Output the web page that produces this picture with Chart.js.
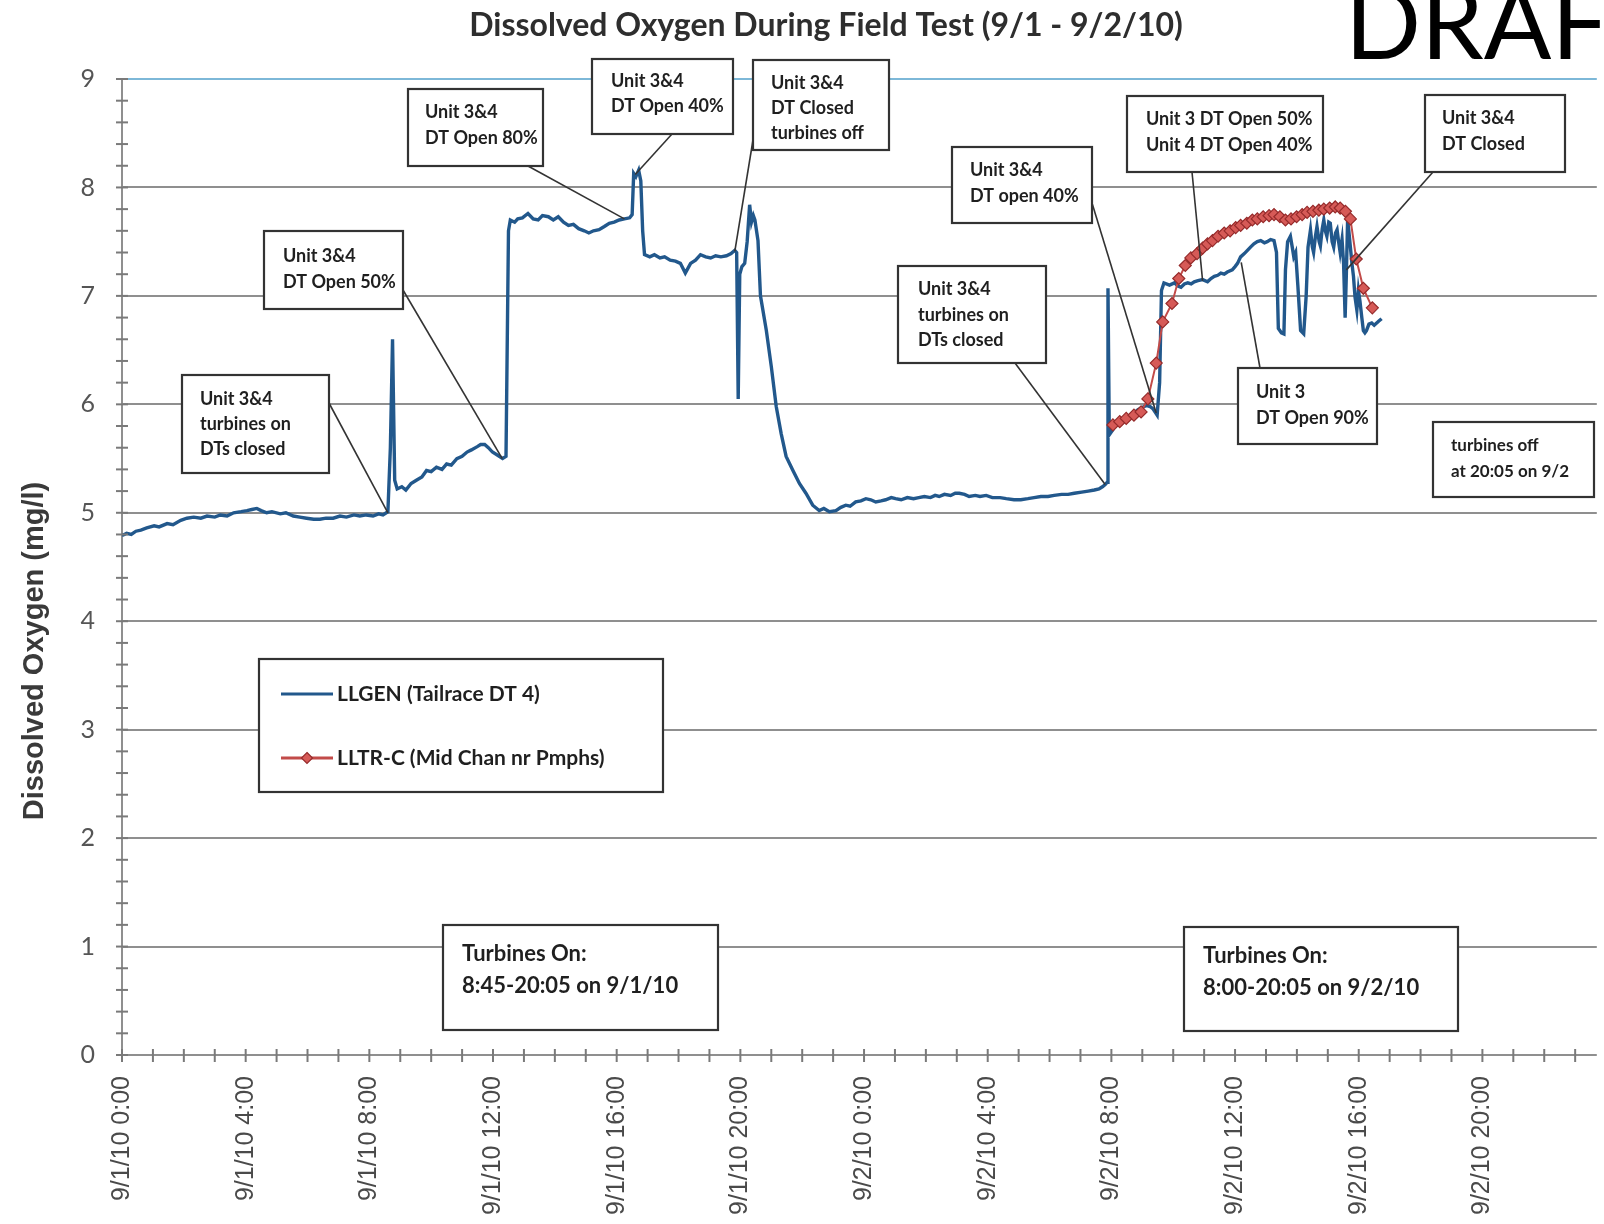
<!DOCTYPE html>
<html>
<head>
<meta charset="utf-8">
<title>Dissolved Oxygen During Field Test</title>
<script src="https://cdn.jsdelivr.net/npm/chart.js@4.4.1/dist/chart.umd.min.js"></script>
<style>
  html, body { margin: 0; padding: 0; background: #fff; overflow: hidden; }
  canvas { display: block; }
</style>
</head>
<body>
<canvas id="chart" width="1604" height="1224"></canvas>
<script>
// LLGEN (tailrace DT 4) readings: hours since 9/1/10 0:00 and DO in mg/l
const llgenHours = [
  0.00, 0.15, 0.30, 0.45, 0.61, 0.80, 1.04, 1.20, 1.46, 1.65, 1.90, 2.10, 2.32, 2.55, 2.75, 3.00,
  3.18, 3.40, 3.61, 3.85, 4.04, 4.20, 4.36, 4.50, 4.68, 4.85, 5.12, 5.30, 5.54, 5.75, 5.97, 6.20,
  6.40, 6.60, 6.83, 7.05, 7.26, 7.50, 7.69, 7.90, 8.12, 8.30, 8.44, 8.60, 8.68, 8.75, 8.82, 8.90,
  9.05, 9.18, 9.35, 9.52, 9.70, 9.85, 10.00, 10.17, 10.35, 10.50, 10.65, 10.83, 11.00, 11.16, 11.30, 11.49,
  11.60, 11.73, 11.85, 11.98, 12.15, 12.31, 12.42, 12.50, 12.56, 12.70, 12.80, 12.95, 13.13, 13.30, 13.46, 13.60,
  13.79, 13.95, 14.11, 14.28, 14.44, 14.60, 14.77, 14.95, 15.10, 15.25, 15.43, 15.60, 15.76, 15.92, 16.08, 16.25,
  16.42, 16.50, 16.55, 16.62, 16.71, 16.78, 16.84, 16.90, 17.07, 17.22, 17.40, 17.55, 17.73, 17.90, 18.06, 18.22,
  18.39, 18.55, 18.71, 18.88, 19.04, 19.20, 19.37, 19.55, 19.70, 19.82, 19.88, 19.93, 19.98, 20.05, 20.14, 20.22,
  20.30, 20.36, 20.42, 20.47, 20.57, 20.65, 20.84, 21.00, 21.16, 21.32, 21.48, 21.70, 21.91, 22.12, 22.34, 22.55,
  22.70, 22.88, 23.09, 23.25, 23.41, 23.55, 23.73, 23.90, 24.06, 24.22, 24.38, 24.55, 24.70, 24.88, 25.02, 25.20,
  25.40, 25.60, 25.77, 25.95, 26.15, 26.30, 26.43, 26.60, 26.80, 26.95, 27.08, 27.25, 27.40, 27.60, 27.75, 27.95,
  28.15, 28.40, 28.60, 28.85, 29.07, 29.30, 29.50, 29.72, 29.95, 30.15, 30.39, 30.60, 30.80, 31.04, 31.25, 31.45,
  31.60, 31.71, 31.80, 31.86, 31.89, 31.93, 31.96, 32.08, 32.21, 32.37, 32.53, 32.70, 32.86, 33.00, 33.13, 33.25,
  33.34, 33.48, 33.56, 33.62, 33.70, 33.88, 34.04, 34.15, 34.25, 34.36, 34.47, 34.58, 34.68, 34.80, 34.95, 35.11,
  35.22, 35.33, 35.44, 35.54, 35.65, 35.75, 35.91, 36.00, 36.08, 36.18, 36.30, 36.40, 36.50, 36.61, 36.72, 36.83,
  36.95, 37.04, 37.15, 37.26, 37.34, 37.40, 37.50, 37.58, 37.63, 37.70, 37.79, 37.85, 37.90, 37.96, 38.03, 38.12,
  38.22, 38.30, 38.36, 38.44, 38.50, 38.54, 38.60, 38.65, 38.72, 38.76, 38.82, 38.87, 38.92, 38.97, 39.03, 39.08,
  39.14, 39.19, 39.25, 39.30, 39.35, 39.40, 39.46, 39.51, 39.56, 39.60, 39.64, 39.68, 39.73, 39.78, 39.83, 39.88,
  39.94, 39.99, 40.04, 40.10, 40.15, 40.20, 40.25, 40.33, 40.42, 40.50, 40.58, 40.66, 40.74
];
const llgenDO = [
  4.79, 4.81, 4.80, 4.83, 4.84, 4.86, 4.88, 4.87, 4.90, 4.89, 4.93, 4.95, 4.96, 4.95, 4.97, 4.96,
  4.98, 4.97, 5.00, 5.01, 5.02, 5.03, 5.04, 5.02, 5.00, 5.01, 4.99, 5.00, 4.97, 4.96, 4.95, 4.94,
  4.94, 4.95, 4.95, 4.97, 4.96, 4.98, 4.97, 4.98, 4.97, 4.99, 4.98, 5.01, 5.60, 6.60, 5.30, 5.22,
  5.24, 5.21, 5.27, 5.30, 5.33, 5.39, 5.38, 5.42, 5.40, 5.45, 5.44, 5.50, 5.52, 5.56, 5.58, 5.61,
  5.63, 5.63, 5.60, 5.56, 5.53, 5.50, 5.52, 7.60, 7.70, 7.68, 7.71, 7.72, 7.76, 7.71, 7.70, 7.74,
  7.73, 7.70, 7.73, 7.68, 7.65, 7.66, 7.62, 7.60, 7.58, 7.60, 7.61, 7.64, 7.67, 7.68, 7.70, 7.71,
  7.72, 7.75, 8.13, 8.10, 8.16, 8.06, 7.60, 7.38, 7.36, 7.38, 7.35, 7.36, 7.33, 7.32, 7.30, 7.21,
  7.30, 7.33, 7.38, 7.36, 7.35, 7.37, 7.36, 7.37, 7.39, 7.42, 7.40, 6.05, 7.20, 7.27, 7.30, 7.50,
  7.84, 7.68, 7.74, 7.70, 7.51, 7.00, 6.68, 6.35, 5.98, 5.73, 5.52, 5.39, 5.27, 5.18, 5.07, 5.02,
  5.04, 5.01, 5.02, 5.05, 5.07, 5.06, 5.10, 5.11, 5.13, 5.12, 5.10, 5.11, 5.12, 5.14, 5.13, 5.12,
  5.14, 5.13, 5.14, 5.15, 5.14, 5.16, 5.15, 5.17, 5.16, 5.18, 5.18, 5.17, 5.15, 5.16, 5.15, 5.16,
  5.14, 5.14, 5.13, 5.12, 5.12, 5.13, 5.14, 5.15, 5.15, 5.16, 5.17, 5.17, 5.18, 5.19, 5.20, 5.21,
  5.22, 5.24, 5.26, 5.28, 7.07, 5.80, 5.73, 5.78, 5.82, 5.85, 5.88, 5.91, 5.95, 5.97, 5.99, 5.98,
  5.96, 5.90, 6.20, 7.05, 7.12, 7.10, 7.12, 7.09, 7.08, 7.11, 7.12, 7.11, 7.13, 7.14, 7.15, 7.13,
  7.16, 7.18, 7.19, 7.21, 7.20, 7.22, 7.24, 7.27, 7.30, 7.36, 7.39, 7.42, 7.45, 7.48, 7.50, 7.51,
  7.49, 7.50, 7.52, 7.51, 7.40, 6.70, 6.66, 6.65, 7.24, 7.50, 7.55, 7.45, 7.36, 7.40, 7.10, 6.68,
  6.65, 7.00, 7.45, 7.61, 7.45, 7.40, 7.55, 7.64, 7.50, 7.46, 7.62, 7.70, 7.60, 7.55, 7.68, 7.67,
  7.50, 7.45, 7.58, 7.61, 7.50, 7.40, 7.52, 7.30, 6.80, 7.20, 7.70, 7.60, 7.45, 7.30, 7.18, 6.99,
  6.87, 7.05, 6.95, 6.80, 6.68, 6.66, 6.68, 6.74, 6.75, 6.73, 6.75, 6.77, 6.79
];

// LLTR-C (mid channel near pumphouse) readings on 9/2
const lltrHours = [
  32.05, 32.27, 32.48, 32.73, 32.96, 33.18, 33.45, 33.66, 33.96, 34.18, 34.39, 34.57, 34.77, 34.95, 35.11,
  35.27, 35.45, 35.65, 35.84, 36.02, 36.18, 36.38, 36.56, 36.72, 36.91, 37.10, 37.26, 37.45, 37.63, 37.81,
  37.99, 38.17, 38.33, 38.52, 38.71, 38.87, 39.06, 39.24, 39.40, 39.57, 39.73, 39.92, 40.15, 40.44
];
const lltrDO = [
  5.81, 5.84, 5.87, 5.90, 5.93, 6.05, 6.38, 6.76, 6.93, 7.16, 7.28, 7.35, 7.39, 7.44, 7.48,
  7.51, 7.55, 7.58, 7.60, 7.63, 7.65, 7.67, 7.70, 7.71, 7.73, 7.74, 7.75, 7.73, 7.70, 7.71,
  7.73, 7.75, 7.77, 7.78, 7.79, 7.80, 7.81, 7.82, 7.81, 7.78, 7.71, 7.34, 7.07, 6.89
];

const seriesNames = ['LLGEN (Tailrace DT 4)', 'LLTR-C (Mid Chan nr Pmphs)'];

// Labelled time ticks (hours since 9/1/10 0:00)
const tickHours = [0, 4, 8, 12, 16, 20, 24, 28, 32, 36, 40, 44];
const tickLabels = [
  '9/1/10 0:00', '9/1/10 4:00', '9/1/10 8:00', '9/1/10 12:00', '9/1/10 16:00', '9/1/10 20:00',
  '9/2/10 0:00', '9/2/10 4:00', '9/2/10 8:00', '9/2/10 12:00', '9/2/10 16:00', '9/2/10 20:00'
];

const chartTitle = 'Dissolved Oxygen During Field Test (9/1 - 9/2/10)';
const yTitle = 'Dissolved Oxygen (mg/l)';
const stampText = 'DRAFT';

// Callout boxes: text lines and the reading each one points at (hour, mg/l)
const callouts = [
  { lines: ['Unit 3&4', 'turbines on', 'DTs closed'], at: [8.6, 5.0] },
  { lines: ['Unit 3&4', 'DT Open 50%'], at: [12.3, 5.5] },
  { lines: ['Unit 3&4', 'DT Open 80%'], at: [16.25, 7.71] },
  { lines: ['Unit 3&4', 'DT Open 40%'], at: [16.6, 8.12] },
  { lines: ['Unit 3&4', 'DT Closed', 'turbines off'], at: [19.82, 7.41] },
  { lines: ['Unit 3&4', 'turbines on', 'DTs closed'], at: [31.8, 5.26] },
  { lines: ['Unit 3&4', 'DT open 40%'], at: [33.45, 5.92] },
  { lines: ['Unit 3 DT Open 50%', 'Unit 4 DT Open 40%'], at: [34.95, 7.14] },
  { lines: ['Unit 3&4', 'DT Closed'], at: [39.6, 7.24] },
  { lines: ['Unit 3', 'DT Open 90%'], at: [36.2, 7.31] },
  { lines: ['turbines off', 'at 20:05 on 9/2'], at: null },
  { lines: ['Turbines On:', '8:45-20:05 on 9/1/10'], at: null },
  { lines: ['Turbines On:', '8:00-20:05 on 9/2/10'], at: null }
];

// Page layout of each callout: box rect [x0, y0, x1, y1], text left, line centres, leader start, font size
const calloutLayout = [
  { box: [182, 375, 329, 473], tx: 200, ty: [399, 424, 449], from: [329, 403], size: 18 },
  { box: [264, 231, 403, 309], tx: 283, ty: [256, 282], from: [403, 290], size: 18 },
  { box: [408, 89, 543, 166], tx: 425, ty: [112, 138], from: [528, 166], size: 18 },
  { box: [592, 59, 733, 134], tx: 611, ty: [81, 106], from: [672, 134], size: 18 },
  { box: [753, 60, 889, 150], tx: 771, ty: [83, 108, 133], from: [753, 140], size: 18 },
  { box: [898, 266, 1046, 363], tx: 918, ty: [289, 315, 340], from: [1015, 363], size: 18 },
  { box: [952, 147, 1092, 223], tx: 970, ty: [170, 196], from: [1092, 203], size: 18 },
  { box: [1127, 96, 1323, 172], tx: 1146, ty: [119, 145], from: [1192, 172], size: 18 },
  { box: [1425, 95, 1565, 172], tx: 1442, ty: [118, 144], from: [1433, 172], size: 18 },
  { box: [1238, 368, 1377, 444], tx: 1256, ty: [392, 418], from: [1260, 368], size: 18 },
  { box: [1433, 422, 1594, 497], tx: 1451, ty: [446, 472], from: null, size: 17 },
  { box: [443, 925, 718, 1030], tx: 462, ty: [954, 986], from: null, size: 22 },
  { box: [1184, 927, 1458, 1031], tx: 1203, ty: [956, 988], from: null, size: 22 }
];

const BLUE = '#22588c';
const RED = '#c24b49';
const RED_FILL = '#d65a57';
const RED_EDGE = '#962b2b';
const GRID = '#8f8f8f';
const INK = '#1f1f1f';
const NOTE_FONT = 'Lato, "Open Sans", sans-serif';

function diamond(ctx, cx, cy, r) {
  ctx.beginPath();
  ctx.moveTo(cx, cy - r);
  ctx.lineTo(cx + r, cy);
  ctx.lineTo(cx, cy + r);
  ctx.lineTo(cx - r, cy);
  ctx.closePath();
}

const decorations = {
  id: 'decorations',
  afterDatasetsDraw(chart) {
    const { ctx, scales: { x, y } } = chart;
    ctx.save();

    // minor tick marks crossing both axes
    ctx.strokeStyle = '#7a7a7a';
    ctx.lineWidth = 2;
    const axisX = x.getPixelForValue(0);
    for (let i = 0; i <= 45; i++) {
      const py = y.getPixelForValue(i * 0.2);
      ctx.beginPath(); ctx.moveTo(axisX - 6, py); ctx.lineTo(axisX + 6, py); ctx.stroke();
    }
    const axisY = y.getPixelForValue(0);
    for (let h = 0; h <= Math.floor(x.max); h++) {
      const px = x.getPixelForValue(h);
      ctx.beginPath(); ctx.moveTo(px, axisY - 6); ctx.lineTo(px, axisY + 7); ctx.stroke();
    }

    // leader lines from callouts to the readings
    ctx.strokeStyle = '#333';
    ctx.lineWidth = 1.6;
    callouts.forEach((c, i) => {
      const L = calloutLayout[i];
      if (!c.at || !L.from) return;
      ctx.beginPath();
      ctx.moveTo(L.from[0], L.from[1]);
      ctx.lineTo(x.getPixelForValue(c.at[0]), y.getPixelForValue(c.at[1]));
      ctx.stroke();
    });

    // callout boxes
    callouts.forEach((c, i) => {
      const L = calloutLayout[i];
      const [x0, y0, x1, y1] = L.box;
      ctx.fillStyle = '#fff';
      ctx.fillRect(x0, y0, x1 - x0, y1 - y0);
      ctx.strokeStyle = '#333';
      ctx.lineWidth = 2.2;
      ctx.strokeRect(x0, y0, x1 - x0, y1 - y0);
      ctx.fillStyle = INK;
      ctx.font = `bold ${L.size}px ${NOTE_FONT}`;
      ctx.textAlign = 'left';
      ctx.textBaseline = 'middle';
      c.lines.forEach((t, k) => ctx.fillText(t, L.tx, L.ty[k]));
    });

    // legend box
    const lg = [259, 659, 663, 792];
    ctx.fillStyle = '#fff';
    ctx.fillRect(lg[0], lg[1], lg[2] - lg[0], lg[3] - lg[1]);
    ctx.strokeStyle = '#333';
    ctx.lineWidth = 2.2;
    ctx.strokeRect(lg[0], lg[1], lg[2] - lg[0], lg[3] - lg[1]);
    const rows = [694, 758];
    chart.data.datasets.forEach((ds, i) => {
      const ry = rows[i];
      ctx.strokeStyle = ds.borderColor;
      ctx.lineWidth = 3;
      ctx.beginPath(); ctx.moveTo(281, ry); ctx.lineTo(333, ry); ctx.stroke();
      if (ds.pointRadius > 0) {
        diamond(ctx, 307, ry, 5.5);
        ctx.fillStyle = ds.pointBackgroundColor;
        ctx.fill();
        ctx.strokeStyle = ds.pointBorderColor;
        ctx.lineWidth = 1.2;
        ctx.stroke();
      }
      ctx.fillStyle = INK;
      ctx.font = `bold 21px ${NOTE_FONT}`;
      ctx.textAlign = 'left';
      ctx.textBaseline = 'middle';
      ctx.fillText(ds.label, 337, ry);
    });
    ctx.restore();
  },
  afterDraw(chart) {
    const { ctx } = chart;
    ctx.save();
    // chart title
    ctx.fillStyle = '#2e2e2e';
    ctx.font = `bold 32px ${NOTE_FONT}`;
    ctx.textAlign = 'center';
    ctx.textBaseline = 'middle';
    ctx.fillText(chartTitle, 826, 26);

    // value axis title
    ctx.translate(35, 651);
    ctx.rotate(-Math.PI / 2);
    ctx.font = 'bold 29px "Liberation Sans", Arial, sans-serif';
    ctx.fillStyle = '#3a3a3a';
    ctx.fillText(yTitle, 0, 0);
    ctx.restore();

    // stamp in the top corner
    ctx.save();
    ctx.fillStyle = '#000';
    ctx.font = `100px ${NOTE_FONT}`;
    ctx.textAlign = 'left';
    ctx.textBaseline = 'alphabetic';
    ctx.fillText(stampText, 1345, 59);
    ctx.restore();
  }
};

const chart = new Chart(document.getElementById('chart'), {
  type: 'line',
  data: {
    datasets: [
      {
        label: seriesNames[0],
        data: llgenHours.map((h, i) => ({ x: h, y: llgenDO[i] })),
        borderColor: BLUE,
        borderWidth: 3.4,
        pointRadius: 0,
        tension: 0,
        order: 2
      },
      {
        label: seriesNames[1],
        data: lltrHours.map((h, i) => ({ x: h, y: lltrDO[i] })),
        borderColor: RED,
        borderWidth: 2,
        pointStyle: 'rectRot',
        pointRadius: 6,
        pointBackgroundColor: RED_FILL,
        pointBorderColor: RED_EDGE,
        pointBorderWidth: 1.2,
        tension: 0,
        order: 1
      }
    ]
  },
  options: {
    responsive: false,
    animation: false,
    devicePixelRatio: 1,
    layout: { padding: { left: 0, right: 0, top: 79, bottom: 0 } },
    plugins: {
      legend: { display: false },
      tooltip: { enabled: false },
      title: { display: false }
    },
    scales: {
      x: {
        type: 'linear',
        min: 0,
        max: 47.7,
        afterBuildTicks: s => { s.ticks = tickHours.map(v => ({ value: v })); },
        afterFit: s => { s.height = 169; },
        grid: { display: false, drawTicks: false },
        border: { display: false },
        ticks: {
          autoSkip: false,
          minRotation: 90,
          maxRotation: 90,
          padding: 21,
          color: '#4a4a4a',
          font: { family: '"Liberation Sans", Arial, sans-serif', size: 25 },
          callback: v => { const k = tickHours.indexOf(v); return k < 0 ? '' : tickLabels[k]; }
        }
      },
      y: {
        min: 0,
        max: 9,
        afterFit: s => { s.width = 122; },
        grid: {
          color: c => (c.tick && c.tick.value === 9 ? '#7db8d8' : GRID),
          lineWidth: 2,
          drawTicks: false
        },
        border: { display: true, color: GRID, width: 2 },
        ticks: {
          stepSize: 1,
          padding: 27,
          color: '#555',
          font: { family: NOTE_FONT, size: 25 }
        }
      }
    }
  },
  plugins: [decorations]
});
</script>
</body>
</html>
